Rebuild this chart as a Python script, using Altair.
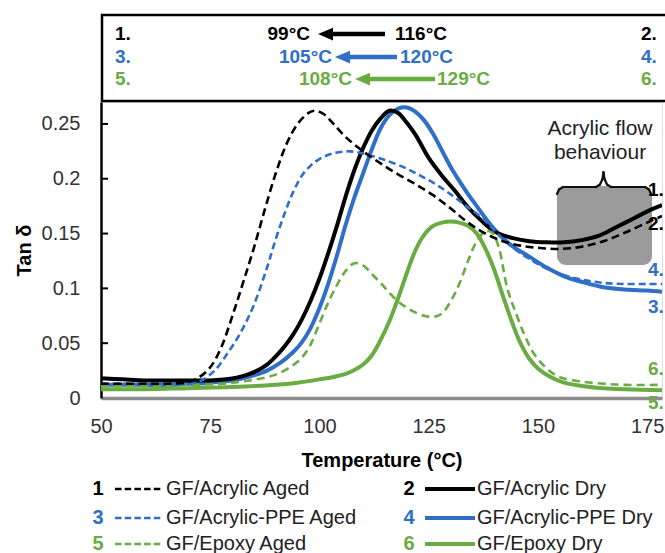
import altair as alt
import pandas as pd

F = "Liberation Sans"
BLACK = "#000000"
BLUE = "#2f6fc7"
GREEN = "#6aab42"

# ---------------- data ----------------
acr_aged_T = [50, 55, 60, 65, 70, 72.5, 75, 77.5, 80, 82.5, 85, 87.5, 90, 92.5, 95, 97.5, 99, 101, 103, 106,
              110, 114, 118, 122, 126, 130, 134, 138, 142, 146, 150, 155, 160, 165, 170, 175, 178.4]
acr_aged_v = [0.013, 0.013, 0.013, 0.013, 0.0145, 0.019, 0.028, 0.046, 0.074, 0.105, 0.137, 0.172, 0.205, 0.232,
              0.25, 0.26, 0.262, 0.259, 0.251, 0.238, 0.225, 0.214, 0.204, 0.195, 0.185, 0.173, 0.16, 0.15, 0.143,
              0.139, 0.137, 0.136, 0.138, 0.143, 0.151, 0.16, 0.166]

acr_dry_T = [50, 55, 60, 65, 70, 75, 78, 80, 82, 84, 86, 88, 90, 92, 94, 96, 98, 100, 102, 104, 106, 108, 110, 112,
             114, 116, 118, 120, 122, 125, 128, 131, 134, 137, 140, 144, 148, 152, 156, 160, 164, 168, 172, 176, 178.4]
acr_dry_v = [0.018, 0.017, 0.016, 0.016, 0.016, 0.016, 0.0168, 0.0178, 0.0195, 0.022, 0.0255, 0.0305, 0.038,
             0.047, 0.058, 0.072, 0.089, 0.109, 0.132, 0.157, 0.184, 0.208, 0.228, 0.244, 0.255, 0.262, 0.26,
             0.251, 0.24, 0.219, 0.203, 0.189, 0.174, 0.162, 0.152, 0.146, 0.143, 0.142, 0.142, 0.144, 0.148,
             0.156, 0.164, 0.172, 0.176]

ppe_aged_T = [50, 55, 60, 65, 70, 73, 76, 79, 82, 85, 88, 90, 92, 94, 96, 98, 100, 103, 107, 111, 115, 119, 123,
              127, 131, 134, 137, 140, 144, 148, 152, 156, 160, 165, 170, 175, 178.4]
ppe_aged_v = [0.013, 0.013, 0.013, 0.013, 0.013, 0.016, 0.025, 0.041, 0.06, 0.085, 0.119, 0.145, 0.168, 0.188,
              0.203, 0.212, 0.218, 0.223, 0.225, 0.222, 0.217, 0.211, 0.203, 0.194, 0.183, 0.174, 0.165, 0.153,
              0.138, 0.127, 0.118, 0.112, 0.108, 0.105, 0.104, 0.104, 0.104]

ppe_dry_T = [50, 55, 60, 65, 70, 75, 80, 84, 88, 91, 94, 96, 98, 100, 102, 104, 106, 108, 110, 112, 114, 116, 118,
             120, 122, 124, 126, 128, 130, 132, 134, 136, 138, 140, 144, 148, 152, 156, 160, 165, 170, 175, 178.4]
ppe_dry_v = [0.012, 0.012, 0.012, 0.012, 0.013, 0.014, 0.016, 0.0195, 0.025, 0.032, 0.042, 0.051, 0.064, 0.082,
             0.104, 0.13, 0.158, 0.183, 0.205, 0.227, 0.246, 0.258, 0.264, 0.265, 0.261, 0.253, 0.241, 0.226,
             0.211, 0.198, 0.186, 0.175, 0.164, 0.154, 0.139, 0.129, 0.119, 0.111, 0.106, 0.101, 0.099, 0.098, 0.097]

epo_aged_T = [50, 60, 70, 78, 84, 88, 91, 94, 96, 98, 100, 102, 104, 106, 108, 110, 112, 114, 116, 118, 121, 124,
              126, 128, 130, 132, 134, 136, 138, 139.5, 141, 143, 145, 147, 149, 152, 155, 160, 165, 170, 178.4]
epo_aged_v = [0.011, 0.011, 0.012, 0.013, 0.016, 0.019, 0.023, 0.03, 0.037, 0.049, 0.068, 0.087, 0.103, 0.116,
              0.123, 0.121, 0.113, 0.105, 0.096, 0.088, 0.08, 0.075, 0.074, 0.077, 0.088, 0.104, 0.125, 0.143,
              0.152, 0.151, 0.138, 0.1, 0.077, 0.057, 0.041, 0.027, 0.019, 0.015, 0.013, 0.012, 0.012]

epo_dry_T = [50, 60, 70, 80, 90, 95, 100, 103, 106, 108, 110, 112, 114, 116, 118, 120, 122, 124, 126, 128, 130,
             132, 134, 136, 138, 140, 142, 144, 146, 148, 150, 153, 156, 160, 165, 170, 178.4]
epo_dry_v = [0.008, 0.008, 0.009, 0.01, 0.012, 0.014, 0.017, 0.019, 0.022, 0.0255, 0.0305, 0.039, 0.053, 0.07,
             0.091, 0.114, 0.135, 0.149, 0.157, 0.16, 0.161, 0.16, 0.157, 0.15, 0.136, 0.117, 0.093, 0.07, 0.05,
             0.036, 0.027, 0.019, 0.014, 0.011, 0.009, 0.008, 0.007]

x_ticks = [50, 75, 100, 125, 150, 175]
y_ticks = [0, 0.05, 0.1, 0.15, 0.2, 0.25]
y_inner_ticks = [0.05, 0.1, 0.15, 0.2, 0.25]

legend_names = ["GF/Acrylic Aged", "GF/Acrylic Dry", "GF/Acrylic-PPE Aged",
                "GF/Acrylic-PPE Dry", "GF/Epoxy Aged", "GF/Epoxy Dry"]
legend_nums = ["1", "2", "3", "4", "5", "6"]
tg_rows = [("1.", "99°C", "116°C", "2."), ("3.", "105°C", "120°C", "4."), ("5.", "108°C", "129°C", "6.")]
end_labels = ["1.", "2.", "4.", "3.", "6.", "5."]

# ---------------- layout (pixels of the 665x553 page) ----------------
L, T = 101, 102
W, H = 561, 296


def px(X):
    return X - L


def py(Y):
    return Y - T


ONE = pd.DataFrame({"k": [0]})

xs = alt.Scale(domain=[50, 178.4], nice=False, zero=False)
ys = alt.Scale(domain=[0, 0.27], nice=False, zero=False)
xaxis = alt.Axis(values=x_ticks, grid=False, ticks=False, tickSize=0, domainColor="#8c8c8c", domainWidth=3.5,
                 labelFont=F, labelFontSize=20, labelColor="#333333", labelPadding=18, labelFlush=False,
                 labelOverlap=False, title="Temperature (°C)", titleFont=F, titleFontSize=20,
                 titleFontWeight="bold", titleColor="#000000", titlePadding=14)
yaxis = alt.Axis(values=y_ticks, format=".2~f", grid=False, ticks=False, tickSize=0, domainColor="#000000",
                 domainWidth=2.5, labelFont=F, labelFontSize=20, labelColor="#333333", labelPadding=21,
                 labelOverlap=False, title="Tan δ", titleFont=F, titleFontSize=20, titleFontWeight="bold",
                 titleColor="#000000", titlePadding=7)


def series(Ts, vs, color, width, dash=None):
    d = pd.DataFrame({"T": Ts, "v": vs})
    kw = dict(color=color, strokeWidth=width, interpolate="catmull-rom", strokeCap="butt", clip=True)
    if dash is not None:
        kw["strokeDash"] = dash
    return alt.Chart(d).mark_line(**kw).encode(
        x=alt.X("T:Q", scale=xs, axis=xaxis),
        y=alt.Y("v:Q", scale=ys, axis=yaxis),
    )


def txt(X, Y, s, size=19, color=BLACK, bold=True, align="left"):
    return alt.Chart(ONE).mark_text(text=s, font=F, fontSize=size, fontWeight="bold" if bold else "normal",
                                    color=color, align=align, baseline="middle").encode(
        x=alt.value(px(X)), y=alt.value(py(Y)))


def seg(X1, Y1, X2, Y2, color=BLACK, width=2.0, dash=None, cap="butt"):
    kw = dict(color=color, strokeWidth=width, strokeCap=cap)
    if dash is not None:
        kw["strokeDash"] = dash
    return alt.Chart(ONE).mark_rule(**kw).encode(
        x=alt.value(px(X1)), y=alt.value(py(Y1)), x2=alt.value(px(X2)), y2=alt.value(py(Y2)))


def arrow(tipX, endX, Y, color):
    head = alt.Chart(ONE).mark_point(shape="M-1,0L1,-0.85L1,0.85Z", size=225, filled=True, opacity=1,
                                     color=color, strokeWidth=0).encode(
        x=alt.value(px(tipX + 7.5)), y=alt.value(py(Y)))
    return [seg(tipX + 12, Y, endX, Y, color, 4.5), head]


layers = []

# gray "flow" box
layers.append(alt.Chart(ONE).mark_rect(fill="#9b9b9b", cornerRadius=9).encode(
    x=alt.value(px(557)), x2=alt.value(px(652)), y=alt.value(py(186)), y2=alt.value(py(265))))

# curves
layers.append(series(epo_dry_T, epo_dry_v, GREEN, 4))
layers.append(series(ppe_dry_T, ppe_dry_v, BLUE, 4))
layers.append(series(acr_dry_T, acr_dry_v, BLACK, 4))
layers.append(series(epo_aged_T, epo_aged_v, GREEN, 2.6, [8, 5]))
layers.append(series(ppe_aged_T, ppe_aged_v, BLUE, 2.6, [7, 4]))
layers.append(series(acr_aged_T, acr_aged_v, BLACK, 2.6, [8, 4.5]))

# inward y ticks
layers.append(alt.Chart(pd.DataFrame({"v": y_inner_ticks})).mark_rule(color=BLACK, strokeWidth=2).encode(
    y=alt.Y("v:Q", scale=ys, axis=yaxis), x=alt.value(0), x2=alt.value(7)))

# top Tg box
layers.append(alt.Chart(ONE).mark_rect(fill="white", stroke=BLACK, strokeWidth=2.5).encode(
    x=alt.value(px(102)), x2=alt.value(px(680)), y=alt.value(py(15)), y2=alt.value(py(101))))
row_colors = [BLACK, BLUE, GREEN]
row_y = [34, 57, 79]
tips = [318, 335, 355]
ends = [385, 397, 435]
left_right = [310, 332, 352]
right_left = [395, 400, 437]
for (a, lo, hi, b), c, Y, tp, en, lr, rl in zip(tg_rows, row_colors, row_y, tips, ends, left_right, right_left):
    layers.append(txt(115, Y, a, color=c))
    layers.append(txt(lr, Y, lo, color=c, align="right"))
    layers.extend(arrow(tp, en, Y, c))
    layers.append(txt(rl, Y, hi, color=c))
    layers.append(txt(641, Y, b, color=c))

# annotation text + brace
layers.append(txt(600, 129, "Acrylic flow", size=21, color="#222222", bold=False, align="center"))
layers.append(txt(600, 153, "behaviour", size=21, color="#222222", bold=False, align="center"))
brace = [(557, 194, 559, 189.5), (559, 189.5, 563, 187), (563, 187, 596, 187), (596, 187, 600, 184.5),
         (600, 184.5, 602.5, 179), (602.5, 179, 603.5, 172), (603.5, 172, 604.5, 179), (604.5, 179, 607, 184.5),
         (607, 184.5, 611, 187), (611, 187, 645, 187), (645, 187, 649, 189.5), (649, 189.5, 651, 194)]
for s in brace:
    layers.append(seg(*s, color="#111111", width=2.2, cap="round"))

# end labels at right edge
end_pos = [(648, 190, BLACK), (648, 224, BLACK), (648, 270, BLUE), (648, 307, BLUE), (648, 369, GREEN),
           (648, 403, GREEN)]
for lab, (X, Y, c) in zip(end_labels, end_pos):
    layers.append(txt(X, Y, lab, color=c))

# bottom legend
leg_rows = [489, 518, 544]
leg_colors = [BLACK, BLUE, GREEN]
for i, (Y, c) in enumerate(zip(leg_rows, leg_colors)):
    # aged (dashed) left column
    layers.append(txt(98, Y, legend_nums[2 * i], size=20, color=c, align="center"))
    layers.append(seg(115, Y, 163, Y, c, 2.6, [6.5, 3.2]))
    layers.append(txt(166, Y, legend_names[2 * i], size=20, color="#222222", bold=False))
    # dry (solid) right column
    layers.append(txt(409, Y, legend_nums[2 * i + 1], size=20, color=c, align="center"))
    layers.append(seg(425, Y, 475, Y, c, 4))
    layers.append(txt(477, Y, legend_names[2 * i + 1], size=20, color="#222222", bold=False))

chart = alt.layer(*layers).properties(
    width=W, height=H, autosize="none",
    padding={"left": L, "top": T, "right": 665 - L - W, "bottom": 553 - T - H},
).configure_view(strokeWidth=0).configure(background="white")

chart.save("out.html", embed_options={"renderer": "svg", "actions": False})
